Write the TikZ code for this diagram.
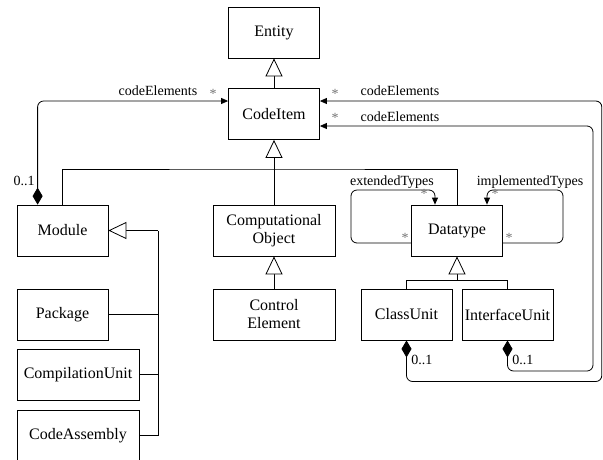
\documentclass[tikz,border=0pt]{standalone}
\usepackage{fontspec}
\setmainfont{Liberation Serif}
\usetikzlibrary{arrows.meta}

\begin{document}
\begin{tikzpicture}[x=1pt,y=1pt,line width=0.8pt,draw=black,font=\rmfamily]
    \tikzstyle{class}=[rectangle,draw,fill=white,minimum width=91pt,minimum height=51pt,inner sep=2pt,font=\rmfamily\fontsize{16}{18}\selectfont,align=center]
    \tikzstyle{wide class}=[class, minimum width=122pt];
    \tikzstyle{gen}=[-{Triangle[open,length=18pt,width=17pt,fill=white]}];
    \tikzstyle{assoc}=[rounded corners=6pt,-{Triangle[length=7pt,width=6pt]}];
    \tikzstyle{comp}=[assoc,{Diamond[length=17pt,width=10pt]}-{Triangle[length=7pt,width=6pt]}];
    \tikzstyle{annot}=[font=\rmfamily\fontsize{14}{16}\selectfont,inner sep=0pt];
    \tikzstyle{mult}=[annot,text=black!55];

    \useasboundingbox (0,0) rectangle (603,-459);

    % Draw the classes
    \node[class] (Entity) at (274,-32.5) {Entity};
    \node[class] (CodeItem) at (274,-114) {CodeItem};
    \node[class] (Module) at (62.5,-230.5) {Module};
    \node[class] (Package) at (62.5,-314.5) {Package};
    \node[wide class] (CompUnit) at (78,-374.5) {CompilationUnit};
    \node[wide class] (CodeAssembly) at (78,-435.5) {CodeAssembly};
    \node[wide class] (CompObject) at (274,-230.5) {Computational\\Object};
    \node[wide class] (ControlElement) at (274,-314.5) {Control\\Element};
    \node[class] (Datatype) at (457,-230.5) {Datatype};
    \node[class] (ClassUnit) at (406.5,-314.5) {ClassUnit};
    \node[class] (InterfaceUnit) at (507.5,-314.5) {InterfaceUnit};

    % Bends of the connectors
    \coordinate (bus) at (274,-169);
    \coordinate (mbus) at (158,-230.5);
    \coordinate (dbus) at (457,-280.5);
    \coordinate (outer) at (601.8,-381.5);
    \coordinate (inner) at (593,-371);
    \coordinate (ext) at (351,-190);
    \coordinate (impl) at (563,-190);

    % Generalizations
    \draw[gen] (CodeItem) -- (Entity);
    \draw[gen] (CompObject) -- (CodeItem);
    \draw (Module.north) |- (bus) -| (Datatype.north);
    \draw[gen] (ControlElement) -- (CompObject);
    \draw[gen] (mbus) -- (Module.east);
    \draw (CodeAssembly.east) -| (mbus);
    \draw (Package.east) -- (Package.east -| mbus);
    \draw (CompUnit.east) -- (CompUnit.east -| mbus);
    \draw[gen] (dbus) -- (Datatype.south);
    \draw (ClassUnit.north) |- (dbus) -| (InterfaceUnit.north);

    % Associations
    \draw[comp] ([xshift=21pt]Module.north west) |- ([yshift=13pt]CodeItem.west);
    \draw[comp] (ClassUnit.south) |- (outer) |- ([yshift=13pt]CodeItem.east);
    \draw[comp] (InterfaceUnit.south) |- (inner) |- ([yshift=-12pt]CodeItem.east);
    \draw[assoc] ([yshift=-12.5pt]Datatype.west) -| (ext) -| ([xshift=-22pt]Datatype.north);
    \draw[assoc] ([yshift=-12.5pt]Datatype.east) -| (impl) -| ([xshift=30pt]Datatype.north);

    % Annotate the associations
    \node[annot] at (158,-91) {codeElements};
    \node[mult] at (213,-94) {*};
    \node[annot] at (24,-181) {0..1};
    \node[mult] at (335,-94) {*};
    \node[annot] at (400,-91) {codeElements};
    \node[mult] at (335,-118) {*};
    \node[annot] at (400,-117) {codeElements};
    \node[annot] at (392,-182) {extendedTypes};
    \node[annot] at (530,-182) {implementedTypes};
    \node[mult] at (405,-238) {*};
    \node[mult] at (424,-194) {*};
    \node[mult] at (509,-238) {*};
    \node[mult] at (495,-194) {*};
    \node[annot,anchor=west] at (411,-360) {0..1};
    \node[annot,anchor=west] at (512,-360) {0..1};
\end{tikzpicture}
\end{document}
